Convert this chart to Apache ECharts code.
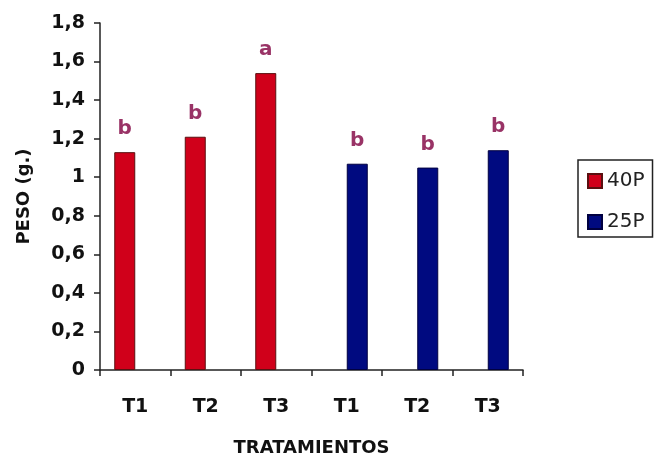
<!DOCTYPE html>
<html>
<head>
<meta charset="utf-8">
<script src="https://cdn.jsdelivr.net/npm/echarts@6/dist/echarts.min.js"></script>
<style>html,body{margin:0;padding:0;background:#fff;}#c{width:657px;height:459px;}</style>
</head>
<body>
<div id="c"></div>
<script>
var categories = ['T1', 'T2', 'T3', 'T1', 'T2', 'T3'];
var values40P = [1.13, 1.21, 1.54, null, null, null];
var values25P = [null, null, null, 1.07, 1.05, 1.14];
var letters40P = ['b', 'b', 'a', '', '', ''];
var letters25P = ['', '', '', 'b', 'b', 'b'];
var yTicks = ['0', '0,2', '0,4', '0,6', '0,8', '1', '1,2', '1,4', '1,6', '1,8'];

var FONT = 'DejaVu Sans';
var chart = echarts.init(document.getElementById('c'), null, {renderer: 'canvas'});

function mkLabel(letters) {
  return {
    show: true,
    position: 'top',
    distance: 13,
    color: '#993366',
    fontFamily: FONT,
    fontWeight: 'bold',
    fontSize: 20,
    formatter: function (p) { return letters[p.dataIndex]; }
  };
}

chart.setOption({
  animation: false,
  backgroundColor: '#fff',
  grid: {left: 100, right: 134, top: 23, bottom: 89, outerBoundsMode: 'none', containLabel: false},
  legend: {
    orient: 'vertical',
    left: 578,
    top: 160,
    borderColor: '#222',
    borderWidth: 1.5,
    padding: [11, 8, 5, 9],
    itemWidth: 14,
    itemHeight: 14,
    itemGap: 21,
    itemTextGap: 3,
    icon: 'rect',
    textStyle: {fontFamily: FONT, fontSize: 20, color: '#222'},
    data: ['40P', '25P']
  },
  xAxis: {
    type: 'category',
    data: categories,
    name: 'TRATAMIENTOS',
    nameLocation: 'middle',
    nameGap: 69,
    nameTextStyle: {fontFamily: FONT, fontWeight: 'bold', fontSize: 18, color: '#111'},
    axisLine: {lineStyle: {color: '#222', width: 1.5}},
    axisTick: {show: true, length: 6, lineStyle: {color: '#222', width: 1.5}},
    axisLabel: {margin: 28, fontFamily: FONT, fontWeight: 'bold', fontSize: 19, color: '#111'}
  },
  yAxis: {
    type: 'value',
    min: 0,
    max: 1.8,
    interval: 0.2,
    name: 'PESO (g.)',
    nameLocation: 'middle',
    nameGap: 67,
    nameTextStyle: {fontFamily: FONT, fontWeight: 'bold', fontSize: 18, color: '#111'},
    axisLine: {show: true, lineStyle: {color: '#222', width: 1.5}},
    axisTick: {show: true, length: 6, lineStyle: {color: '#222', width: 1.5}},
    splitLine: {show: false},
    axisLabel: {
      margin: 15,
      fontFamily: FONT,
      fontWeight: 'bold',
      fontSize: 19,
      color: '#111',
      formatter: function (v) { return yTicks[Math.round(v / 0.2)]; }
    }
  },
  series: [
    {
      name: '40P',
      type: 'bar',
      data: values40P,
      barWidth: 21,
      barGap: '0%',
      itemStyle: {color: '#d0001a', borderColor: '#5a1010', borderWidth: 1},
      label: mkLabel(letters40P)
    },
    {
      name: '25P',
      type: 'bar',
      data: values25P,
      barWidth: 21,
      barGap: '0%',
      itemStyle: {color: '#000a80', borderColor: '#000040', borderWidth: 1},
      label: mkLabel(letters25P)
    }
  ]
});
</script>
</body>
</html>
